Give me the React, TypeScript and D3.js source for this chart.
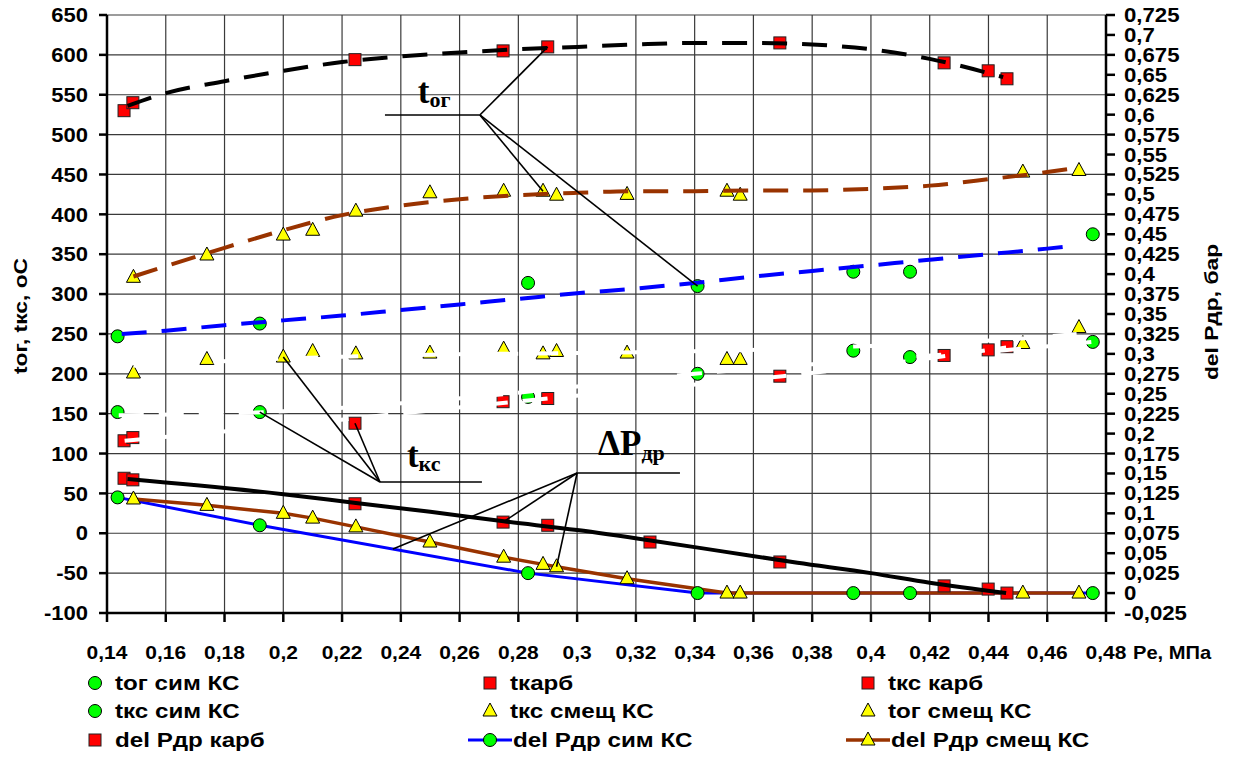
import React from "react";
import * as d3 from "d3";

const W = 1238;
const H = 758;
const X0 = 107;
const X1 = 1106;
const Y0 = 15;
const Y1 = 613;

// measured series (x = Pe, MPa; temps in oC; delP in bar)
const pKarb = [0.1458, 0.1488, 0.2244, 0.2748, 0.29, 0.369, 0.4249, 0.4399, 0.4463];
const tKarb = [530, 540, 594, 605, 610, 615, 590, 580, 570];
const tkcKarb = [116, 120, 138, 165, 169, 197, 223, 230, 234];

const pSim = [0.1436, 0.192, 0.2833, 0.341, 0.394, 0.4133, 0.4755];
const togSim = [247, 263, 314, 310, 328, 328, 375];
const tkcSim = [152, 152, 171, 200, 229, 221, 240];
const dpSim = [0.12, 0.085, 0.025, 0, 0, 0, 0];

const pSmesh = [0.149, 0.174, 0.2, 0.21, 0.2247, 0.2499, 0.275, 0.2884, 0.293, 0.317, 0.351, 0.3555, 0.4517, 0.4708];
const togSmesh = [321, 349, 374, 380, 404, 427, 429, 429, 424, 425, 429, 424, 453, 455];
const tkcSmesh = [201, 218, 221, 228, 225, 226, 231, 225, 228, 226, 218, 218, 238, 258];
const dpSmesh = [0.118, 0.11, 0.1, 0.094, 0.083, 0.064, 0.045, 0.036, 0.033, 0.018, 0, 0, 0, 0];

const pDpKarb = [0.1458, 0.1488, 0.2244, 0.2748, 0.29, 0.3248, 0.369, 0.4249, 0.4399, 0.4463];
const dpKarb = [0.144, 0.142, 0.112, 0.089, 0.085, 0.064, 0.039, 0.009, 0.005, 0];

// trend lines
const trKarbX = [0.147, 0.16, 0.18, 0.2, 0.22, 0.24, 0.26, 0.28, 0.3, 0.32, 0.34, 0.36, 0.38, 0.4, 0.42, 0.445];
const trKarbY = [536, 552, 567, 580, 591, 598, 603, 607, 610, 613, 615, 615, 613, 607, 595, 572];
const trTogSmeshX = [0.149, 0.16, 0.18, 0.2, 0.22, 0.24, 0.26, 0.28, 0.3, 0.32, 0.34, 0.36, 0.38, 0.4, 0.42, 0.44, 0.46, 0.471];
const trTogSmeshY = [322, 335, 358, 380, 399, 411, 419, 424, 427, 429, 429, 430, 430, 432, 436, 444, 453, 459];
const trTogSimX = [0.145, 0.16, 0.18, 0.2, 0.22, 0.24, 0.26, 0.28, 0.3, 0.32, 0.34, 0.36, 0.38, 0.4, 0.42, 0.44, 0.46, 0.47];
const trTogSimY = [250, 254, 261, 267, 273, 280, 287, 294, 301, 307, 314, 322, 329, 336, 343, 350, 357, 361];
const trTkcSmeshX = [0.149, 0.2, 0.25, 0.3, 0.35, 0.4, 0.45, 0.47];
const trTkcSmeshY = [210, 219, 224, 226, 229, 235, 244, 250];
const trTkcSimX = [0.144, 0.2, 0.25, 0.3, 0.34, 0.38, 0.413, 0.45, 0.475];
const trTkcSimY = [148, 153, 166, 184, 200, 212, 221, 231, 240];
const trTkcKarbX = [0.146, 0.2, 0.25, 0.29, 0.33, 0.37, 0.4, 0.446];
const trTkcKarbY = [116, 135, 154, 169, 183, 197, 210, 233];
const trDpKarbX = [0.147, 0.2, 0.2247, 0.25, 0.275, 0.3, 0.325, 0.35, 0.375, 0.4, 0.42, 0.446];
const trDpKarbY = [0.143, 0.124, 0.113, 0.102, 0.09, 0.079, 0.066, 0.052, 0.038, 0.025, 0.013, 0];

const xTicks = d3.range(14, 49, 2).map((d) => d / 100);
const yTicks = d3.range(-100, 651, 50);
const y2Ticks = d3.range(-1, 30).map((d) => d * 0.025);

const FONT = "Arial, 'Liberation Sans', sans-serif";
const SERIF = "'Times New Roman', 'Liberation Serif', serif";
const GREEN = "#00ff00";
const RED = "#ff0000";
const YELLOW = "#ffff00";
const BROWN = "#993300";
const BLUE = "#0000ff";

const fmt = (v: number) => {
  const s = (+v.toFixed(3)).toString();
  return s.replace(".", ",");
};

const x = d3.scaleLinear().domain([0.14, 0.48]).range([X0, X1]);
const y = d3.scaleLinear().domain([-100, 650]).range([Y1, Y0]);
const y2 = d3.scaleLinear().domain([-0.025, 0.725]).range([Y1, Y0]);

const zip = (xs: number[], ys: number[]) => xs.map((v, i) => [v, ys[i]] as [number, number]);

const Circle = ({ cx, cy }: { cx: number; cy: number }) => (
  <circle cx={cx} cy={cy} r={6.5} fill={GREEN} stroke="#000" strokeWidth={1} />
);
const Square = ({ cx, cy }: { cx: number; cy: number }) => (
  <rect x={cx - 6} y={cy - 6} width={12} height={12} fill={RED} stroke="#222" strokeWidth={1} />
);
const Tri = ({ cx, cy }: { cx: number; cy: number }) => (
  <path d={`M${cx},${cy - 8}L${cx + 7},${cy + 5}L${cx - 7},${cy + 5}Z`} fill={YELLOW} stroke="#000" strokeWidth={1} />
);

// wide bold text, the source font is stretched horizontally
const T = ({
  x: tx,
  y: ty,
  size,
  sx,
  anchor,
  rot,
  children,
}: {
  x: number;
  y: number;
  size: number;
  sx: number;
  anchor?: string;
  rot?: boolean;
  children: React.ReactNode;
}) => (
  <text
    transform={`translate(${tx},${ty})${rot ? " rotate(-90)" : ""} scale(${sx},1)`}
    fontSize={size}
    textAnchor={anchor || "start"}
  >
    {children}
  </text>
);

export default function App() {
  const lineR = d3
    .line<[number, number]>()
    .x((d) => x(d[0]))
    .y((d) => y2(d[1]));
  const smoothL = d3
    .line<[number, number]>()
    .x((d) => x(d[0]))
    .y((d) => y(d[1]))
    .curve(d3.curveMonotoneX);
  const smoothR = d3
    .line<[number, number]>()
    .x((d) => x(d[0]))
    .y((d) => y2(d[1]))
    .curve(d3.curveMonotoneX);

  const dash = "25,15";

  // callouts, anchored in data units
  const tog0 = [x(0.2669), y(524.6)];
  const tkc0 = [x(0.2329), y(64.3)];
  const dp0 = [x(0.3), y(75.6)];

  const legendRows = [683, 711, 740];
  const legendCols = [95, 490, 868];

  const legend = [
    { col: 0, row: 0, kind: "c", text: "tог сим КС" },
    { col: 1, row: 0, kind: "s", text: "tкарб" },
    { col: 2, row: 0, kind: "s", text: "tкс карб" },
    { col: 0, row: 1, kind: "c", text: "tкс сим КС" },
    { col: 1, row: 1, kind: "t", text: "tкс смещ КС" },
    { col: 2, row: 1, kind: "t", text: "tог смещ КС" },
    { col: 0, row: 2, kind: "s", text: "del Pдр карб" },
    { col: 1, row: 2, kind: "lc", text: "del Pдр сим КС" },
    { col: 2, row: 2, kind: "lt", text: "del Pдр смещ КС" },
  ];

  return (
    <svg
      width={W}
      height={H}
      viewBox={`0 0 ${W} ${H}`}
      style={{ position: "absolute", left: 0, top: 0, background: "#fff" }}
    >
      {/* grid */}
      <g stroke="#3a3a3a" strokeWidth={1.2}>
        {yTicks.map((t) => (
          <line key={"gy" + t} x1={X0} x2={X1} y1={y(t)} y2={y(t)} />
        ))}
        {xTicks.map((t) => (
          <line key={"gx" + t} x1={x(t)} x2={x(t)} y1={Y0} y2={Y1} />
        ))}
      </g>

      {/* axes */}
      <g stroke="#000" strokeWidth={2.5}>
        <line x1={X0} x2={X0} y1={Y0} y2={Y1 + 1} />
        <line x1={X1} x2={X1} y1={Y0} y2={Y1 + 1} />
        <line x1={X0} x2={X1} y1={Y1} y2={Y1} />
        {yTicks.map((t) => (
          <line key={"ty" + t} x1={X0 - 8} x2={X0} y1={y(t)} y2={y(t)} />
        ))}
        {y2Ticks.map((t, i) => (
          <line key={"ty2" + i} x1={X1} x2={X1 + 9} y1={y2(t)} y2={y2(t)} />
        ))}
        {xTicks.map((t) => (
          <line key={"tx" + t} x1={x(t)} x2={x(t)} y1={Y1} y2={Y1 + 9} />
        ))}
      </g>

      <g fontFamily={FONT} fontWeight="bold" fill="#000">
        {yTicks.map((t) => (
          <T key={"ly" + t} x={88} y={y(t) + 7.2} size={20} sx={1.1} anchor="end">
            {fmt(t)}
          </T>
        ))}
        {y2Ticks.map((t, i) => (
          <T key={"ly2" + i} x={1124} y={y2(t) + 7} size={19.5} sx={1.14}>
            {fmt(t)}
          </T>
        ))}
        {xTicks.map((t) => (
          <T key={"lx" + t} x={x(t)} y={659} size={17.5} sx={1.2} anchor="middle">
            {fmt(t)}
          </T>
        ))}
        <T x={1133} y={659} size={17.5} sx={1.15}>
          Pe, МПа
        </T>
        <T x={27} y={316} size={19} sx={1.2} anchor="middle" rot>
          tог, tкс, оС
        </T>
        <T x={1218} y={312} size={19} sx={1.2} anchor="middle" rot>
          del Pдр, бар
        </T>
      </g>

      {/* series lines */}
      <path d={lineR(zip(pSim, dpSim)) || ""} fill="none" stroke={BLUE} strokeWidth={3} />
      <path d={lineR(zip(pSmesh, dpSmesh)) || ""} fill="none" stroke={BROWN} strokeWidth={3.5} />

      {/* markers */}
      {pSim.map((p, i) => (
        <Circle key={"a" + i} cx={x(p)} cy={y(togSim[i])} />
      ))}
      {pKarb.map((p, i) => (
        <Square key={"b" + i} cx={x(p)} cy={y(tKarb[i])} />
      ))}
      {pKarb.map((p, i) => (
        <Square key={"c" + i} cx={x(p)} cy={y(tkcKarb[i])} />
      ))}
      {pSim.map((p, i) => (
        <Circle key={"d" + i} cx={x(p)} cy={y(tkcSim[i])} />
      ))}
      {pSmesh.map((p, i) => (
        <Tri key={"e" + i} cx={x(p)} cy={y(tkcSmesh[i])} />
      ))}
      {pSmesh.map((p, i) => (
        <Tri key={"f" + i} cx={x(p)} cy={y(togSmesh[i])} />
      ))}
      {pDpKarb.map((p, i) => (
        <Square key={"g" + i} cx={x(p)} cy={y2(dpKarb[i])} />
      ))}
      {pSim.map((p, i) => (
        <Circle key={"h" + i} cx={x(p)} cy={y2(dpSim[i])} />
      ))}
      {pSmesh.map((p, i) => (
        <Tri key={"k" + i} cx={x(p)} cy={y2(dpSmesh[i])} />
      ))}

      {/* trend lines */}
      <path d={smoothR(zip(trDpKarbX, trDpKarbY)) || ""} fill="none" stroke="#000" strokeWidth={4} />
      <path d={smoothL(zip(trKarbX, trKarbY)) || ""} fill="none" stroke="#000" strokeWidth={4} strokeDasharray={dash} />
      <path d={smoothL(zip(trTogSmeshX, trTogSmeshY)) || ""} fill="none" stroke={BROWN} strokeWidth={4} strokeDasharray={dash} />
      <path d={smoothL(zip(trTogSimX, trTogSimY)) || ""} fill="none" stroke={BLUE} strokeWidth={4} strokeDasharray={dash} />
      <path d={smoothL(zip(trTkcSmeshX, trTkcSmeshY)) || ""} fill="none" stroke="#fff" strokeWidth={4} strokeDasharray={dash} />
      <path d={smoothL(zip(trTkcSimX, trTkcSimY)) || ""} fill="none" stroke="#fff" strokeWidth={4} strokeDasharray={dash} />
      <path d={smoothL(zip(trTkcKarbX, trTkcKarbY)) || ""} fill="none" stroke="#fff" strokeWidth={4} strokeDasharray={dash} />

      {/* callouts */}
      <g stroke="#000" strokeWidth={1.6} fill="none">
        <line x1={x(0.2346)} x2={tog0[0]} y1={tog0[1]} y2={tog0[1]} />
        <line x1={tog0[0]} y1={tog0[1]} x2={x(pKarb[4])} y2={y(tKarb[4])} />
        <line x1={tog0[0]} y1={tog0[1]} x2={x(pSmesh[7])} y2={y(togSmesh[7])} />
        <line x1={tog0[0]} y1={tog0[1]} x2={x(pSim[3])} y2={y(togSim[3])} />

        <line x1={tkc0[0]} x2={x(0.2676)} y1={tkc0[1]} y2={tkc0[1]} />
        <line x1={tkc0[0]} y1={tkc0[1]} x2={x(pSim[1])} y2={y(tkcSim[1])} />
        <line x1={tkc0[0]} y1={tkc0[1]} x2={x(pSmesh[2])} y2={y(tkcSmesh[2])} />
        <line x1={tkc0[0]} y1={tkc0[1]} x2={x(pKarb[2])} y2={y(tkcKarb[2])} />

        <line x1={dp0[0]} x2={x(0.335)} y1={dp0[1]} y2={dp0[1]} />
        <line x1={dp0[0]} y1={dp0[1]} x2={x(pDpKarb[3])} y2={y2(dpKarb[3])} />
        <line x1={dp0[0]} y1={dp0[1]} x2={x(pSmesh[8])} y2={y2(dpSmesh[8])} />
        <line x1={dp0[0]} y1={dp0[1]} x2={x(0.2373)} y2={y2(0.0552)} />
      </g>
      <g fontFamily={SERIF} fontWeight="bold" fill="#000">
        <text x={tog0[0] - 62} y={tog0[1] - 12}>
          <tspan fontSize={35}>t</tspan>
          <tspan fontSize={22} dy={4}>ог</tspan>
        </text>
        <text x={tkc0[0] + 27} y={tkc0[1] - 15}>
          <tspan fontSize={35}>t</tspan>
          <tspan fontSize={22} dy={4}>кс</tspan>
        </text>
        <text x={dp0[0] + 21} y={dp0[1] - 18}>
          <tspan fontSize={35}>ΔP</tspan>
          <tspan fontSize={22} dy={5}>др</tspan>
        </text>
      </g>

      {/* legend */}
      <g fontFamily={FONT} fontWeight="bold">
        {legend.map((l, i) => {
          const cx = legendCols[l.col];
          const cy = legendRows[l.row];
          const line = l.kind === "lc" || l.kind === "lt";
          return (
            <g key={"lg" + i}>
              {l.kind === "lc" && <line x1={cx - 22} x2={cx + 22} y1={cy} y2={cy} stroke={BLUE} strokeWidth={3} />}
              {l.kind === "lt" && <line x1={cx - 22} x2={cx + 22} y1={cy} y2={cy} stroke={BROWN} strokeWidth={3.5} />}
              {(l.kind === "c" || l.kind === "lc") && <Circle cx={cx} cy={cy} />}
              {l.kind === "s" && <Square cx={cx} cy={cy} />}
              {(l.kind === "t" || l.kind === "lt") && <Tri cx={cx} cy={cy} />}
              <T x={line ? cx + 23 : cx + 20} y={cy + 7} size={19.5} sx={1.24}>
                {l.text}
              </T>
            </g>
          );
        })}
      </g>
    </svg>
  );
}
